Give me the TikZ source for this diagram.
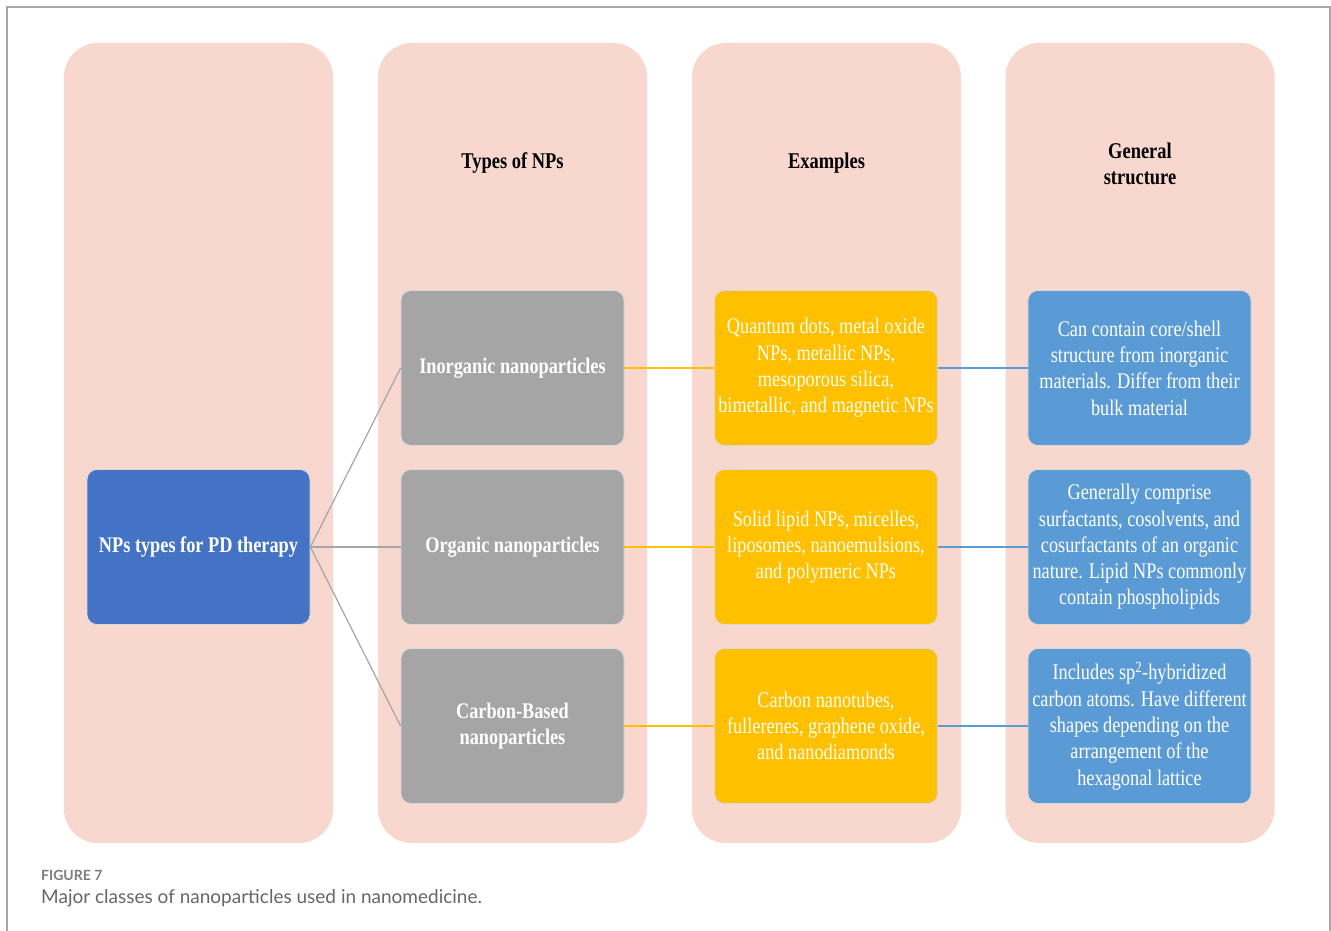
\documentclass[tikz,border=0pt]{standalone}
\usepackage{fontspec}
\setmainfont[FakeStretch=0.82]{Liberation Serif}
\newfontfamily\capfont{Lato}
\definecolor{colpink}{HTML}{F8D7CF}
\definecolor{rootblue}{HTML}{4472C4}
\definecolor{typegray}{HTML}{A5A5A5}
\definecolor{exyellow}{HTML}{FFC000}
\definecolor{structblue}{HTML}{5B9BD5}
\definecolor{framegray}{HTML}{A8A8A8}
\definecolor{captext}{HTML}{666666}
\tikzset{
  column/.style={fill=colpink, rounded corners=34pt, minimum width=269pt, minimum height=800pt, inner sep=0pt, draw=none},
  card/.style={rounded corners=10pt, minimum width=223pt, minimum height=155pt, inner sep=2pt, align=center,
    draw=white!85!black, line width=0.8pt, text=white, font=\fontsize{22.3}{26.3}\selectfont},
  rootcard/.style={card, fill=rootblue, font=\bfseries\fontsize{22.3}{26.3}\selectfont},
  typecard/.style={card, fill=typegray, font=\bfseries\fontsize{22.3}{26.3}\selectfont},
  excard/.style={card, fill=exyellow, text=white!94!yellow},
  structcard/.style={card, fill=structblue},
  header/.style={align=center, font=\bfseries\fontsize{22.5}{26.5}\selectfont, text=black},
  link/.style={line width=1.2pt}
}
\begin{document}
\begin{tikzpicture}[x=1pt, y=-1pt]
\useasboundingbox (0,0) rectangle (1331,931);
\fill[white] (0,0) rectangle (1331,931);
% page frame
\draw[framegray, line width=1.5pt] (7,931) -- (7,7) -- (1330,7) -- (1330,931);

% background columns
\node[column] (c1) at (198.5,443) {};
\node[column] (c2) at (512.5,443) {};
\node[column] (c3) at (826.5,443) {};
\node[column] (c4) at (1140,443) {};

% column headings
\node[header] (h2) at (512.5,163) {Types of NPs};
\node[header] (h3) at (826.5,163) {Examples};
\node[header] (h4) at (1140,164) {General\\structure};

% root
\node[rootcard] (root) at (198.5,547) {NPs types for PD therapy};

% types
\node[typecard] (t1) at (512.5,368) {Inorganic nanoparticles};
\node[typecard] (t2) at (512.5,547) {Organic nanoparticles};
\node[typecard] (t3) at (512.5,726) {Carbon-Based\\nanoparticles};

% examples
\node[excard] (e1) at (826,368) {Quantum dots, metal oxide\\NPs, metallic NPs,\\mesoporous silica,\\bimetallic, and magnetic NPs};
\node[excard] (e2) at (826,547) {Solid lipid NPs, micelles,\\liposomes, nanoemulsions,\\and polymeric NPs};
\node[excard] (e3) at (826,726) {Carbon nanotubes,\\fullerenes, graphene oxide,\\and nanodiamonds};

% structures
\node[structcard] (s1) at (1139.5,368) {Can contain core/shell\\structure from inorganic\\materials. Differ from their\\bulk material};
\node[structcard] (s2) at (1139.5,547) {Generally comprise\\surfactants, cosolvents, and\\cosurfactants of an organic\\nature. Lipid NPs commonly\\contain phospholipids};
\node[structcard] (s3) at (1139.5,726) {Includes sp\textsuperscript{2}-hybridized\\carbon atoms. Have different\\shapes depending on the\\arrangement of the\\hexagonal lattice};

% connectors
\draw[link, typegray] (root.east) -- (t1.west);
\draw[link, typegray] (root.east) -- (t2.west);
\draw[link, typegray] (root.east) -- (t3.west);
\draw[link, exyellow] (t1.east) -- (e1.west);
\draw[link, exyellow] (t2.east) -- (e2.west);
\draw[link, exyellow] (t3.east) -- (e3.west);
\draw[link, structblue] (e1.east) -- (s1.west);
\draw[link, structblue] (e2.east) -- (s2.west);
\draw[link, structblue] (e3.east) -- (s3.west);

% caption
\node[anchor=base west, inner sep=0pt, font=\capfont\bfseries\fontsize{14}{16}\selectfont, text=captext!85!white] (figlabel) at (41,880) {FIGURE 7};
\node[anchor=base west, inner sep=0pt, font=\capfont\fontsize{19}{22}\selectfont, text=captext] (figcap) at (41,903) {Major classes of nanoparticles used in nanomedicine.};
\end{tikzpicture}
\end{document}
